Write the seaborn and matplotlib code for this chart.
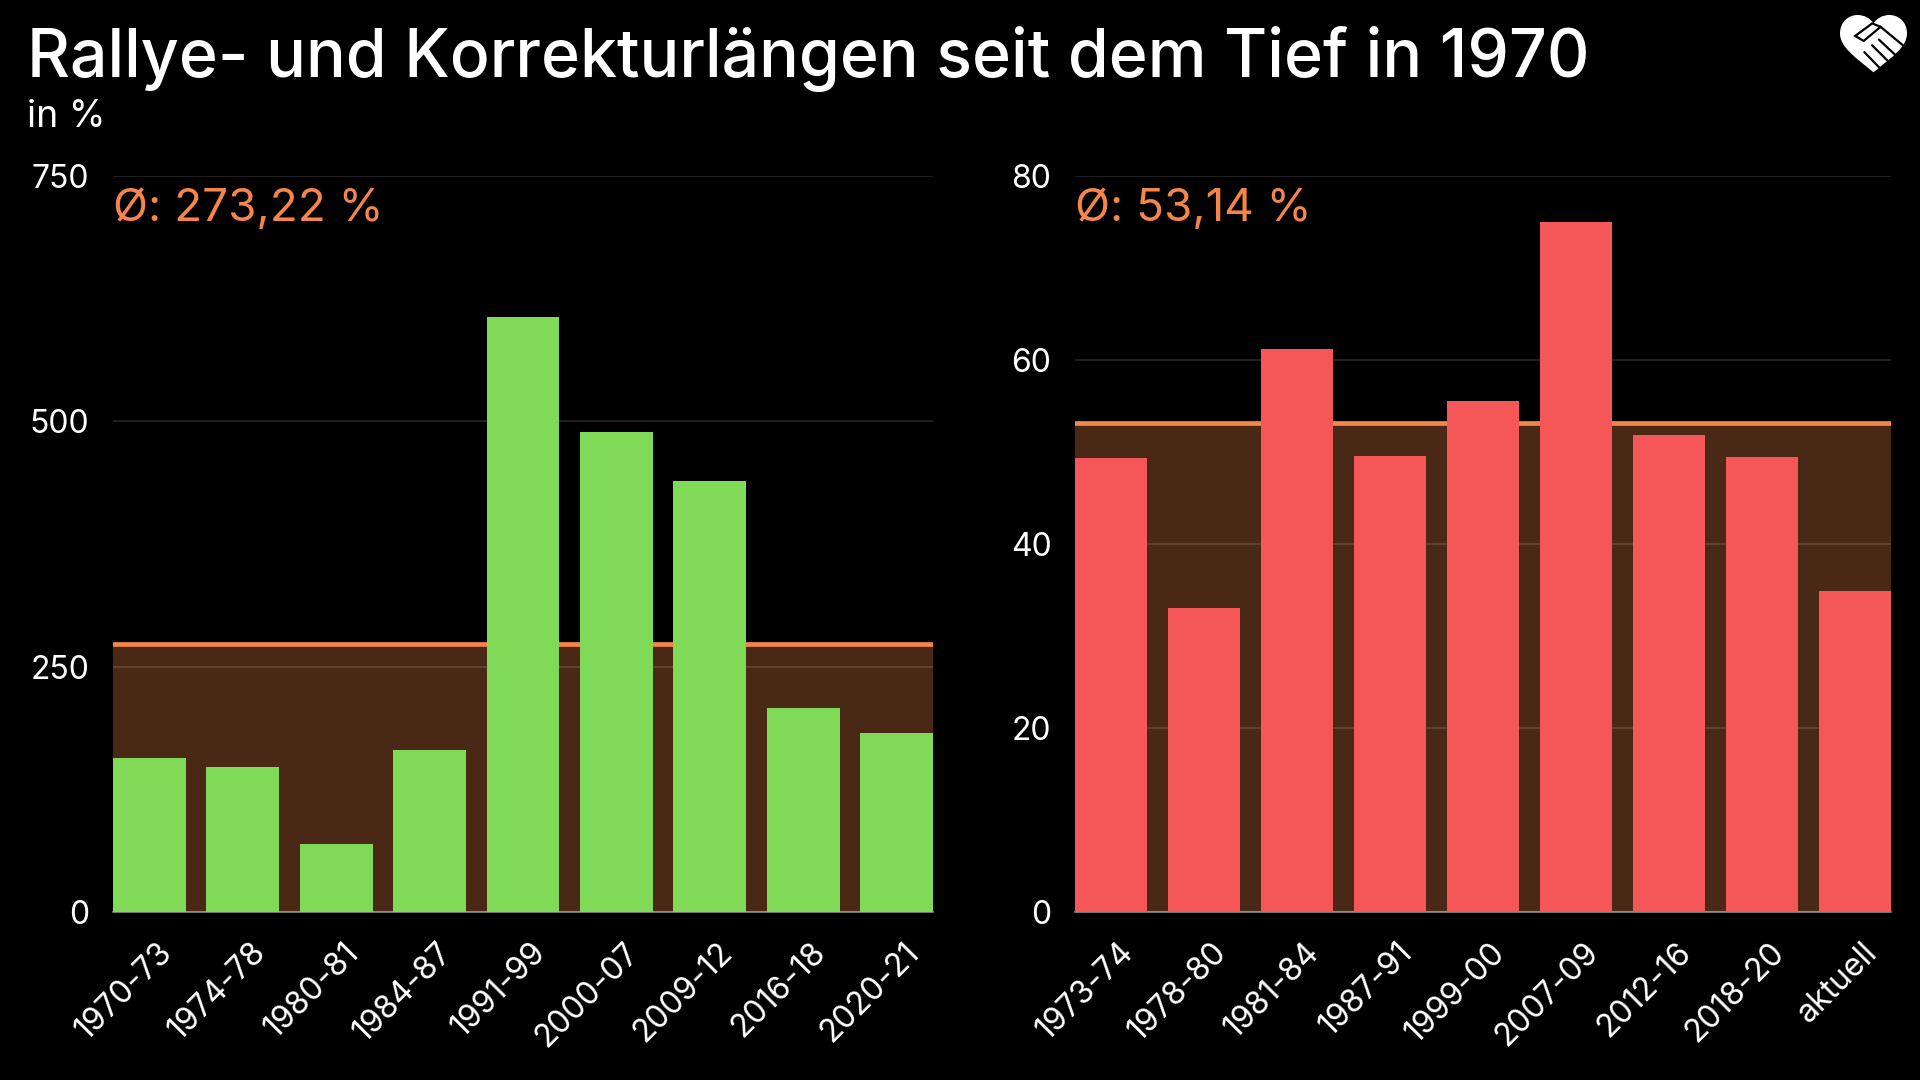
import matplotlib
matplotlib.use("Agg")
import matplotlib.pyplot as plt
from matplotlib.path import Path
from matplotlib.patches import PathPatch
from matplotlib.transforms import ScaledTranslation
import pandas as pd
import seaborn as sns

rally_labels = ["1970-73", "1974-78", "1980-81", "1984-87", "1991-99", "2000-07", "2009-12", "2016-18", "2020-21"]
rally_values = [157, 148, 69, 165, 606, 489, 439, 208, 182]
rally_mean = 273.22
rally_ticks = [0, 250, 500, 750]

corr_labels = ["1973-74", "1978-80", "1981-84", "1987-91", "1999-00", "2007-09", "2012-16", "2018-20", "aktuell"]
corr_values = [49.3, 33.0, 61.2, 49.6, 55.5, 75.0, 51.8, 49.5, 34.9]
corr_mean = 53.14
corr_ticks = [0, 20, 40, 60, 80]

W, H = 1920, 1080
BG = "#000000"
GREEN = "#80da58"
RED = "#f55658"
ORANGE = "#f5854a"
BAND = "#4a2816"

sns.set_theme(style="dark")
plt.rcParams["font.family"] = ["Inter", "DejaVu Sans"]


def panel(rect, labels, values, mean, ticks, color, note):
    left, right = rect
    ax = fig.add_axes([left / W, 1 - 912 / H, (right - left) / W, (912 - 176) / H])
    ax.set_facecolor(BG)
    df = pd.DataFrame({"period": labels, "value": values})
    sns.barplot(data=df, x="period", y="value", color=color, saturation=1, width=0.78,
                linewidth=0, edgecolor="none", ax=ax, zorder=4)
    ax.set_xlim(-0.39, len(labels) - 1 + 0.39)
    ax.set_ylim(0, ticks[-1])
    ax.set_yticks(ticks)
    ax.set_xlabel("")
    ax.set_ylabel("")
    ax.axhspan(0, mean, color=BAND, lw=0, zorder=1)
    ax.grid(False)
    for t in ticks[1:]:
        ax.axhline(t, color="white", alpha=0.16, lw=1.1, zorder=2)
    ax.axhline(0, color="white", alpha=0.45, lw=1.5, zorder=2, clip_on=False)
    ax.axhline(mean, color=ORANGE, lw=3.4, zorder=3)
    sns.despine(ax=ax, left=True, bottom=True, top=True, right=True)
    ax.tick_params(axis="y", length=0, pad=17, labelsize=23, labelcolor="white")
    ax.tick_params(axis="x", length=0, pad=18, labelsize=23, labelcolor="white")
    # labels sit a bit right of the bar centre
    shift = ScaledTranslation(5 / 72, 0, fig.dpi_scale_trans)
    for lab in ax.get_xticklabels():
        lab.set_rotation(45)
        lab.set_ha("right")
        lab.set_va("top")
        lab.set_rotation_mode("anchor")
        lab.set_transform(lab.get_transform() + shift)
    fig.text(left / W, 1 - 209 / H, note, color=ORANGE, fontsize=33, va="center", ha="left")
    return ax


fig = plt.figure(figsize=(W / 100, H / 100), dpi=100, facecolor=BG)

panel((113, 933), rally_labels, rally_values, rally_mean, rally_ticks, GREEN, "Ø: 273,22 %")
panel((1075, 1891), corr_labels, corr_values, corr_mean, corr_ticks, RED, "Ø: 53,14 %")

fig.text(27 / W, 1 - 59 / H, "Rallye- und Korrekturlängen seit dem Tief in 1970", color="white",
         fontsize=47.7, fontweight="medium", va="center", ha="left")
fig.text(27 / W, 1 - 117 / H, "in %", color="white", fontsize=27, va="center", ha="left")

# logo: herz mit handschlag
logo = fig.add_axes([1840 / W, 1 - 73 / H, 67 / W, 58 / H])
logo.set_xlim(180, 378)
logo.set_ylim(217, 45)
logo.axis("off")
heart = Path(
    [(279, 215), (225, 170), (180, 140), (180, 100), (180, 65), (205, 45), (232, 45), (252, 45), (270, 55), (279, 70),
     (288, 55), (306, 45), (326, 45), (353, 45), (378, 65), (378, 100), (378, 140), (333, 170), (279, 215)],
    [Path.MOVETO] + [Path.CURVE4] * 18,
)
logo.add_patch(PathPatch(heart, facecolor="white", edgecolor="none"))
for xs, ys in [
    ([372, 300, 275, 225, 250, 300], [140, 80, 70, 107, 122, 80]),
    ([295, 345], [118, 165]),
    ([275, 325], [135, 185]),
    ([252, 300], [155, 205]),
]:
    logo.plot(xs, ys, color="black", lw=1.6, solid_joinstyle="miter")

fig.savefig("out.png", dpi=100, facecolor=BG)
